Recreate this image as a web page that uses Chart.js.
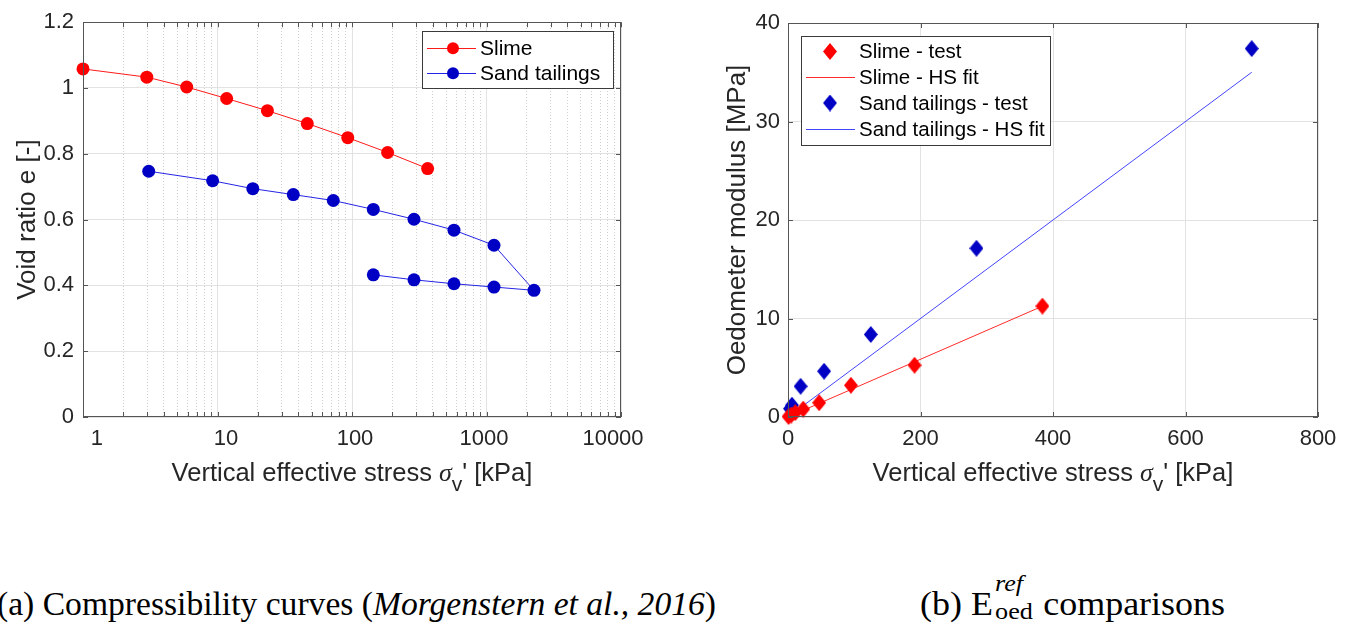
<!DOCTYPE html>
<html>
<head>
<meta charset="utf-8">
<script src="https://cdn.jsdelivr.net/npm/chart.js@4.4.1/dist/chart.umd.min.js"></script>
<style>
  body { margin: 0; width: 1354px; height: 628px; background: #fff; position: relative; overflow: hidden; }
  #c1 { position: absolute; left: 0; top: 0; }
  #c2 { position: absolute; left: 680px; top: 0; }
  .cap { position: absolute; top: 586px; font-family: 'Liberation Serif', 'Times New Roman', serif; font-size: 33px; line-height: 36px; color: #000; white-space: nowrap; transform-origin: left center; }
  .ss { display: inline-block; position: relative; width: 37px; height: 1px; margin-left: 1px; }
  .ss span { position: absolute; left: 1px; font-size: 24px; line-height: 24px; }
  .ss .sup { bottom: 20px; font-style: italic; }
  .ss .sub { bottom: -8px; }
</style>
</head>
<body>
<canvas id="c1" width="680" height="500"></canvas>
<canvas id="c2" width="674" height="500"></canvas>
<div class="cap" id="capA">(a) Compressibility curves (<i>Morgenstern et al., 2016</i>)</div>
<div class="cap" id="capB">(b) E<span class="ss"><span class="sup">ref</span><span class="sub">oed</span></span> comparisons</div>

<script>
// (a) compressibility curves
const slimeStress = [1.0, 2.98, 5.9, 11.7, 23.5, 46.5, 93, 184, 365];
const slimeVoid   = [1.058, 1.033, 1.003, 0.968, 0.931, 0.892, 0.849, 0.804, 0.755];
const sandStress  = [3.08, 9.2, 18.3, 36.6, 72.6, 144, 289, 573, 1137, 2255, 1137, 573, 289, 144];
const sandVoid    = [0.747, 0.718, 0.694, 0.676, 0.658, 0.631, 0.601, 0.568, 0.522, 0.385, 0.395, 0.405, 0.417, 0.432];

// (b) oedometer modulus
const slimeTestStress = [0.8, 5, 11, 23, 47, 95, 191, 384];
const slimeTestE      = [0.05, 0.2, 0.45, 0.8, 1.45, 3.22, 5.26, 11.26];
const slimeFitStress  = [5, 384];
const slimeFitE       = [0.15, 11.25];
const sandTestStress  = [3, 6, 19, 54.5, 125, 284.5, 700];
const sandTestE       = [0.85, 1.2, 3.12, 4.65, 8.38, 17.13, 37.4];
const sandFitStress   = [8, 700];
const sandFitE        = [0.4, 35];

// ticks
const logTicks = [1, 10, 100, 1000, 10000];
const voidTicks = [0, 0.2, 0.4, 0.6, 0.8, 1, 1.2];
const stressTicks = [0, 200, 400, 600, 800];
const modulusTicks = [0, 10, 20, 30, 40];

const sans = "'Liberation Sans', Arial, sans-serif";
const serif = "'Liberation Serif', 'Times New Roman', serif";
const ink = '#262626';

const logMinor = [];
for (let d = 1; d < 10000; d *= 10)
  for (let k = 2; k <= 9; k++) logMinor.push(k * d);

const pts = (xs, ys) => xs.map((x, i) => ({ x: x, y: ys[i] }));
const setTicks = vals => s => { s.ticks = vals.map(v => ({ value: v })); };

function diamond(color, w, h) {
  const c = document.createElement('canvas');
  c.width = w; c.height = h;
  const g = c.getContext('2d');
  g.fillStyle = color;
  g.beginPath();
  g.moveTo(w / 2, 0); g.lineTo(w, h / 2); g.lineTo(w / 2, h); g.lineTo(0, h / 2);
  g.closePath(); g.fill();
  return c;
}
const redDiamond = diamond('#ff0000', 14, 17);
const blueDiamond = diamond('#0000c4', 14, 17);

// box, inward ticks, axis titles, legend (matlab look)
const frame = {
  id: 'frame',
  afterDraw(chart, args, o) {
    const ctx = chart.ctx, ca = chart.chartArea;
    ctx.save();
    ctx.strokeStyle = '#555';
    ctx.lineWidth = 1;
    Object.values(chart.scales).forEach(s => {
      if (!s.options.innerTicks) return;
      s.ticks.forEach(t => {
        const p = Math.round(s.getPixelForValue(t.value)) + 0.5;
        ctx.beginPath();
        if (s.isHorizontal()) {
          ctx.moveTo(p, ca.bottom); ctx.lineTo(p, ca.bottom - 5);
          ctx.moveTo(p, ca.top); ctx.lineTo(p, ca.top + 5);
        } else {
          ctx.moveTo(ca.left, p); ctx.lineTo(ca.left + 5, p);
          ctx.moveTo(ca.right, p); ctx.lineTo(ca.right - 5, p);
        }
        ctx.stroke();
      });
    });
    ctx.strokeRect(Math.round(ca.left) + 0.5, Math.round(ca.top) + 0.5,
      Math.round(ca.right - ca.left) - 1, Math.round(ca.bottom - ca.top) - 1);

    // x title with sigma_v
    const parts = [
      { t: 'Vertical effective stress ', f: '25.5px ' + sans, dy: 0 },
      { t: '\u03c3', f: 'italic 26px ' + serif, dy: 0 },
      { t: 'v', f: '21px ' + sans, dy: 10 },
      { t: "' [kPa]", f: '25.5px ' + sans, dy: 0 }
    ];
    let total = 0;
    parts.forEach(p => { ctx.font = p.f; p.w = ctx.measureText(p.t).width; total += p.w; });
    let x = (ca.left + ca.right) / 2 - total / 2;
    ctx.fillStyle = ink;
    ctx.textBaseline = 'alphabetic';
    ctx.textAlign = 'left';
    parts.forEach(p => { ctx.font = p.f; ctx.fillText(p.t, x, o.xTitleY + p.dy); x += p.w; });

    // y title
    ctx.save();
    ctx.translate(o.yTitleX, (ca.top + ca.bottom) / 2);
    ctx.rotate(-Math.PI / 2);
    ctx.font = '26px ' + sans;
    ctx.textAlign = 'center';
    ctx.textBaseline = 'middle';
    ctx.fillText(o.yTitle, 0, 0);
    ctx.restore();

    // legend
    const lg = o.legend;
    const [x0, y0, x1, y1] = lg.box;
    ctx.fillStyle = '#fff';
    ctx.fillRect(x0, y0, x1 - x0, y1 - y0);
    ctx.strokeStyle = '#3a3a3a';
    ctx.strokeRect(x0 + 0.5, y0 + 0.5, x1 - x0, y1 - y0);
    ctx.font = lg.size + 'px ' + sans;
    ctx.textBaseline = 'middle';
    chart.data.datasets.forEach((ds, i) => {
      const y = lg.rows[i];
      if (ds.showLine) {
        ctx.strokeStyle = ds.borderColor;
        ctx.beginPath();
        ctx.moveTo(lg.line[0], Math.round(y) + 0.5);
        ctx.lineTo(lg.line[1], Math.round(y) + 0.5);
        ctx.stroke();
      }
      if (ds.pointRadius > 0) {
        if (typeof ds.pointStyle === 'object') {
          ctx.drawImage(ds.pointStyle, lg.marker - ds.pointStyle.width / 2, y - ds.pointStyle.height / 2);
        } else {
          ctx.fillStyle = ds.pointBackgroundColor;
          ctx.beginPath();
          ctx.arc(lg.marker, y, lg.radius, 0, Math.PI * 2);
          ctx.fill();
        }
      }
      ctx.fillStyle = '#000';
      ctx.fillText(ds.label, lg.text, y + 1);
    });
    ctx.restore();
  }
};

const tickFont = { family: sans, size: 22 };

new Chart(document.getElementById('c1'), {
  type: 'scatter',
  data: {
    datasets: [
      { label: 'Slime', data: pts(slimeStress, slimeVoid), showLine: true,
        borderColor: '#ff1a1a', borderWidth: 1, pointRadius: 6.5, pointBorderWidth: 0,
        pointBackgroundColor: '#ff0000', clip: false, xAxisID: 'x', yAxisID: 'y' },
      { label: 'Sand tailings', data: pts(sandStress, sandVoid), showLine: true,
        borderColor: '#2424e6', borderWidth: 1, pointRadius: 6.5, pointBorderWidth: 0,
        pointBackgroundColor: '#0000c4', clip: false, xAxisID: 'x', yAxisID: 'y' }
    ]
  },
  options: {
    responsive: false,
    animation: false,
    events: [],
    layout: { padding: { left: 0, right: 59, top: 18, bottom: 0 } },
    scales: {
      x: {
        type: 'logarithmic', position: 'bottom', min: 1, max: 10000,
        afterBuildTicks: setTicks(logTicks.concat(logMinor)),
        afterFit: s => { s.height = 0; },
        ticks: { display: false },
        grid: { color: c => logTicks.includes(c.tick && c.tick.value) ? '#e2e2e2' : 'rgba(0,0,0,0)', drawTicks: false },
        border: { display: false },
        innerTicks: true
      },
      xMinor: {
        type: 'logarithmic', position: 'top', min: 1, max: 10000,
        afterBuildTicks: setTicks(logMinor),
        afterFit: s => { s.height = 0; },
        ticks: { display: false },
        grid: { color: '#cfcfcf', drawTicks: false },
        border: { display: false, dash: [1, 2] }
      },
      xLab: {
        type: 'logarithmic', position: 'bottom', min: 0.779, max: 11534,
        afterBuildTicks: setTicks(logTicks),
        afterFit: s => { s.height = 83; },
        ticks: { font: tickFont, color: ink, padding: 9, maxRotation: 0, autoSkip: false, callback: v => String(v) },
        grid: { display: false, drawTicks: false },
        border: { display: false }
      },
      y: {
        type: 'linear', min: 0, max: 1.2,
        afterBuildTicks: setTicks(voidTicks),
        afterFit: s => { s.width = 83; },
        ticks: { font: tickFont, color: ink, padding: 9, callback: v => String(v) },
        grid: { color: '#e2e2e2', drawTicks: false },
        border: { display: false },
        innerTicks: true
      }
    },
    plugins: {
      legend: { display: false },
      tooltip: { enabled: false },
      frame: {
        xTitleY: 481, yTitleX: 28, yTitle: 'Void ratio e [-]',
        legend: { box: [422, 31, 613, 88], rows: [48.3, 73.3], line: [427, 476], marker: 453, radius: 6, text: 480, size: 21 }
      }
    }
  },
  plugins: [frame]
});

new Chart(document.getElementById('c2'), {
  type: 'scatter',
  data: {
    datasets: [
      { label: 'Slime - test', data: pts(slimeTestStress, slimeTestE), showLine: false,
        pointStyle: redDiamond, pointRadius: 8, order: 1, clip: false },
      { label: 'Slime - HS fit', data: pts(slimeFitStress, slimeFitE), showLine: true,
        borderColor: '#ff2a2a', borderWidth: 1, pointRadius: 0, order: 2 },
      { label: 'Sand tailings - test', data: pts(sandTestStress, sandTestE), showLine: false,
        pointStyle: blueDiamond, pointRadius: 8, order: 1, clip: false },
      { label: 'Sand tailings - HS fit', data: pts(sandFitStress, sandFitE), showLine: true,
        borderColor: '#4545ff', borderWidth: 1, pointRadius: 0, order: 2 }
    ]
  },
  options: {
    responsive: false,
    animation: false,
    events: [],
    layout: { padding: { left: 0, right: 36, top: 23, bottom: 0 } },
    scales: {
      x: {
        type: 'linear', min: 0, max: 800,
        afterBuildTicks: setTicks(stressTicks),
        afterFit: s => { s.height = 83; },
        ticks: { font: tickFont, color: ink, padding: 9, maxRotation: 0 },
        grid: { color: '#e2e2e2', drawTicks: false },
        border: { display: false },
        innerTicks: true
      },
      y: {
        type: 'linear', min: 0, max: 40,
        afterBuildTicks: setTicks(modulusTicks),
        afterFit: s => { s.width = 108; },
        ticks: { font: tickFont, color: ink, padding: 8 },
        grid: { color: '#e2e2e2', drawTicks: false },
        border: { display: false },
        innerTicks: true
      }
    },
    plugins: {
      legend: { display: false },
      tooltip: { enabled: false },
      frame: {
        xTitleY: 481, yTitleX: 58, yTitle: 'Oedometer modulus [MPa]',
        legend: { box: [121, 36, 370, 145], rows: [51.5, 77, 103, 129], line: [126, 175], marker: 150, text: 179, size: 20.5 }
      }
    }
  },
  plugins: [frame]
});

// stretch the captions to the widths they span in the figure
function fitCaption(id, left, right) {
  const el = document.getElementById(id);
  const w = el.getBoundingClientRect().width;
  el.style.left = left + 'px';
  el.style.transform = 'scaleX(' + ((right - left) / w) + ')';
}
fitCaption('capA', -3, 716);
fitCaption('capB', 920, 1225);
</script>
</body>
</html>
